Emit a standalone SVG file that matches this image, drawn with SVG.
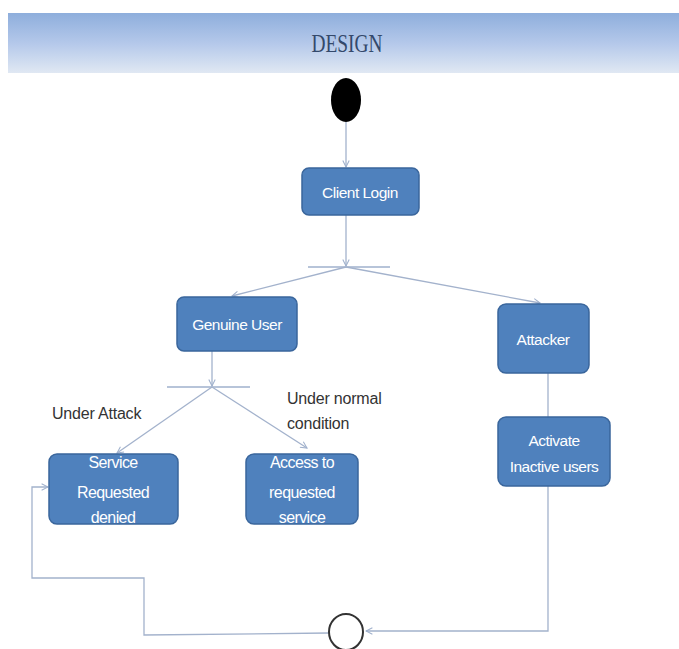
<svg xmlns="http://www.w3.org/2000/svg" width="679" height="649" viewBox="0 0 679 649">
<defs>
<linearGradient id="hdr" x1="0" y1="0" x2="0" y2="1">
<stop offset="0" stop-color="#8eaedc"/>
<stop offset="0.5" stop-color="#b4c8ea"/>
<stop offset="1" stop-color="#e0e8f3"/>
</linearGradient>
<marker id="arr" viewBox="0 0 10 10" refX="9" refY="5" markerWidth="8" markerHeight="8" orient="auto" markerUnits="userSpaceOnUse">
<path d="M1,1 L9,5 L1,9" fill="none" stroke="#9fb0cc" stroke-width="1.3"/>
</marker>
<style>
.box{fill:#4f81bd;stroke:#3a669c;stroke-width:1.5}
.bt{font-family:"Liberation Sans",Arial,sans-serif;font-size:15.5px;fill:#ffffff;text-anchor:middle;letter-spacing:-0.5px}
.bt2{font-family:"Liberation Sans",Arial,sans-serif;font-size:16px;fill:#ffffff;text-anchor:middle;letter-spacing:-0.6px}
.lbl{font-family:"Liberation Sans",Arial,sans-serif;font-size:16px;fill:#333333;letter-spacing:-0.2px}
.ln{fill:none;stroke:#a3b2cc;stroke-width:1.3}
.bar{stroke:#9fb0cc;stroke-width:1.5}
</style>
</defs>
<rect x="0" y="0" width="679" height="649" fill="#ffffff"/>
<g id="header">
<rect x="8" y="13" width="671" height="60" fill="url(#hdr)"/>
<text x="347" y="52" font-family="'Liberation Serif','Times New Roman',serif" font-size="26" fill="#34496b" text-anchor="middle" textLength="71" lengthAdjust="spacingAndGlyphs">DESIGN</text>
</g>
<g id="connectors">
<line class="ln" x1="346" y1="122" x2="346" y2="167" marker-end="url(#arr)"/>
<line class="ln" x1="346" y1="215" x2="346" y2="266" marker-end="url(#arr)"/>
<line class="bar" x1="308" y1="267" x2="390" y2="267"/>
<line class="ln" x1="346" y1="267" x2="232" y2="296" marker-end="url(#arr)"/>
<line class="ln" x1="346" y1="267" x2="540" y2="303" marker-end="url(#arr)"/>
<line class="ln" x1="212" y1="351" x2="212" y2="386" marker-end="url(#arr)"/>
<line class="bar" x1="167" y1="387" x2="250" y2="387"/>
<line class="ln" x1="212" y1="387" x2="117" y2="453" marker-end="url(#arr)"/>
<line class="ln" x1="212" y1="387" x2="307" y2="448" marker-end="url(#arr)"/>
<line class="ln" x1="548" y1="373" x2="548" y2="417"/>
<polyline class="ln" points="548,486 548,631 366,631" marker-end="url(#arr)"/>
<polyline class="ln" points="329,633 144,635 144,578 32,578 32,487 48,487" marker-end="url(#arr)"/>
</g>
<g id="start">
<ellipse cx="346" cy="100" rx="15" ry="22" fill="#000000"/>
</g>
<g id="client-login">
<rect class="box" x="302" y="168" width="117" height="47" rx="7"/>
<text class="bt" x="360" y="198">Client Login</text>
</g>
<g id="genuine-user">
<rect class="box" x="177" y="297" width="120" height="54" rx="7"/>
<text class="bt" x="237" y="330">Genuine User</text>
</g>
<g id="attacker">
<rect class="box" x="498" y="304" width="91" height="69" rx="8"/>
<text class="bt" x="543" y="345">Attacker</text>
</g>
<g id="activate">
<rect class="box" x="498" y="417" width="112" height="69" rx="8"/>
<text class="bt" x="554" y="446">Activate</text>
<text class="bt" x="554" y="472">Inactive users</text>
</g>
<g id="service-denied">
<rect class="box" x="49" y="454" width="129" height="70" rx="8"/>
<text class="bt2" x="113" y="468">Service</text>
<text class="bt2" x="113" y="498">Requested</text>
<text class="bt2" x="113" y="523">denied</text>
</g>
<g id="access-service">
<rect class="box" x="246" y="454" width="112" height="70" rx="8"/>
<text class="bt2" x="302" y="468">Access to</text>
<text class="bt2" x="302" y="498">requested</text>
<text class="bt2" x="302" y="523">service</text>
</g>
<g id="labels">
<text class="lbl" x="52" y="419">Under Attack</text>
<text class="lbl" x="287" y="404">Under normal</text>
<text class="lbl" x="287" y="429">condition</text>
</g>
<g id="end">
<ellipse cx="346" cy="632" rx="17" ry="18" fill="#ffffff" stroke="#333333" stroke-width="2"/>
</g>
</svg>
